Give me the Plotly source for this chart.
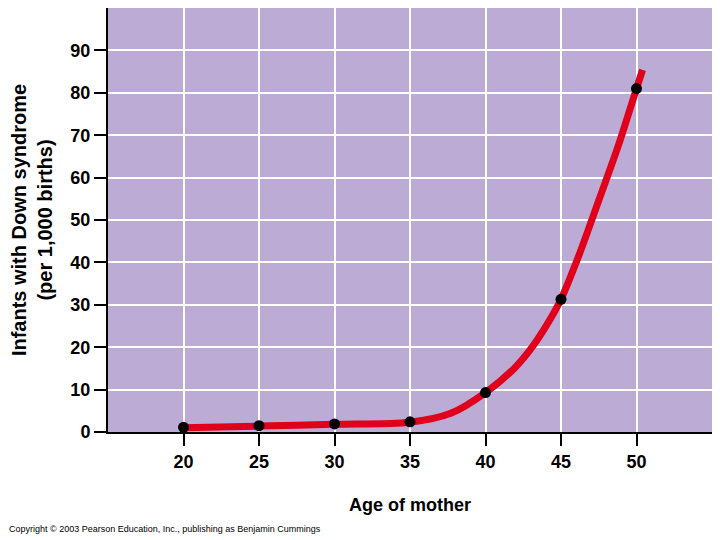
import plotly.graph_objects as go

# Observed data points (age of mother, infants with Down syndrome per 1,000 births)
ages = [20, 25, 30, 35, 40, 45, 50]
rates = [1.1, 1.5, 1.9, 2.4, 9.3, 31.3, 81.0]

# Fitted curve
curve_ages = [20, 25, 30, 35, 37.7, 40, 41.9, 43.0, 44.1, 45, 46.2, 47.5, 48.8, 50, 50.4]
curve_rates = [1.0, 1.4, 1.8, 2.3, 4.4, 9.3, 15.0, 19.6, 25.5, 31.3, 41.8, 54.6, 67.6, 81.0, 85.4]

x_ticks = [20, 25, 30, 35, 40, 45, 50]
y_ticks = [0, 10, 20, 30, 40, 50, 60, 70, 80, 90]

FONT = "Liberation Sans"

fig = go.Figure()
fig.add_trace(go.Scatter(
    x=curve_ages, y=curve_rates, mode="lines",
    line=dict(color="#E0001B", width=7, shape="spline", smoothing=0.8),
    hoverinfo="skip", showlegend=False,
))
fig.add_trace(go.Scatter(
    x=ages, y=rates, mode="markers",
    marker=dict(color="black", size=11),
    showlegend=False,
))

# The page body adds an 8px offset; the figure is sized to fit the window.
fig.update_layout(
    width=712, height=532,
    margin=dict(l=100, r=8, t=0, b=108),
    plot_bgcolor="#BCABD4",
    paper_bgcolor="white",
    font=dict(family=FONT, color="black"),
    annotations=[dict(
        text="Copyright © 2003 Pearson Education, Inc., publishing as Benjamin Cummings",
        xref="paper", yref="paper", x=-101/604, y=-97/424,
        xanchor="left", yanchor="middle", showarrow=False,
        font=dict(family=FONT, size=9, color="black"),
    )],
)
fig.update_xaxes(
    range=[15, 55], tickvals=x_ticks, ticktext=[str(v) for v in x_ticks],
    ticks="outside", ticklen=12, tickwidth=2, tickcolor="black",
    showline=True, linecolor="black", linewidth=2,
    showgrid=True, gridcolor="white", gridwidth=2, zeroline=False,
    automargin=False,
    tickfont=dict(family=FONT, size=18, color="black", weight="bold"),
    title=dict(text="<b>Age of mother</b>", font=dict(family=FONT, size=18), standoff=28),
)
fig.update_yaxes(
    range=[0, 100], tickvals=y_ticks, ticktext=[str(v) for v in y_ticks],
    ticks="outside", ticklen=12, tickwidth=2, tickcolor="black",
    showline=True, linecolor="black", linewidth=2,
    showgrid=True, gridcolor="white", gridwidth=2, zeroline=False,
    automargin=False,
    tickfont=dict(family=FONT, size=18, color="black", weight="bold"),
    title=dict(text="<b>Infants with Down syndrome<br>(per 1,000 births)</b>",
               font=dict(family=FONT, size=20), standoff=14),
)

fig.write_html("out.html")
